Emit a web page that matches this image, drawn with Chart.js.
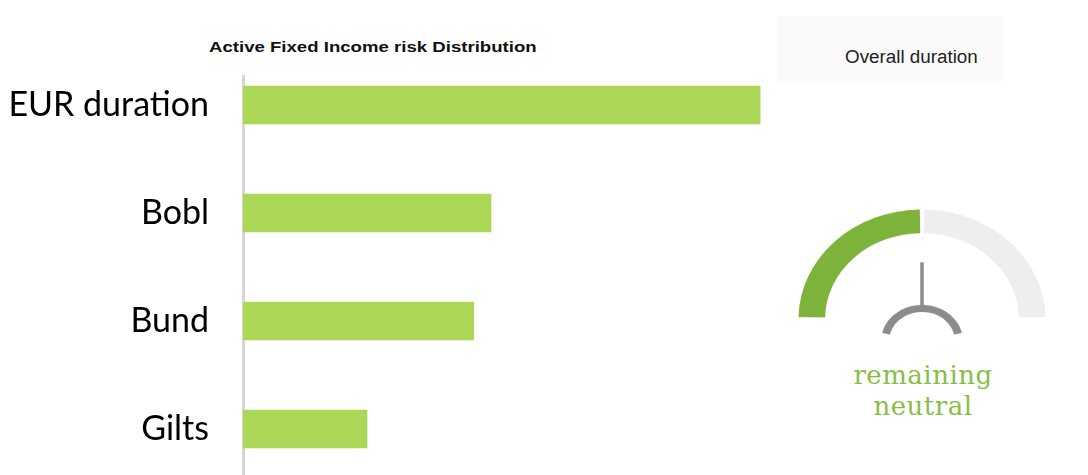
<!DOCTYPE html>
<html>
<head>
<meta charset="utf-8">
<script src="https://cdn.jsdelivr.net/npm/chart.js@4/dist/chart.umd.min.js"></script>
<style>
  html, body { margin: 0; padding: 0; background: #fff; }
  body { width: 1088px; height: 475px; position: relative; overflow: hidden; }
  #title {
    position: absolute; left: 209px; top: 38px;
    font: bold 15px "Liberation Sans", Arial, sans-serif; color: #111;
    white-space: nowrap;
    transform: scaleX(1.24); transform-origin: 0 0;
  }
  #barWrap { position: absolute; left: 0; top: 75px; width: 780px; height: 400px; }
  #durBox {
    position: absolute; left: 777px; top: 16px; width: 226px; height: 65px;
    background: #fafafa;
  }
  #durText {
    position: absolute; left: 845px; top: 47px;
    font: 18px "Liberation Sans", Arial, sans-serif; color: #222;
    white-space: nowrap;
    transform: scaleX(1.045); transform-origin: 0 0;
  }
  #gauge {
    position: absolute; left: 792px; top: 178px;
    transform: scaleY(0.887); transform-origin: 130px 141px;
  }
  #gaugeText {
    position: absolute; left: 823px; width: 200px; top: 360px;
    text-align: center; color: #86bf44;
    font: 26px "DejaVu Serif", serif; line-height: 31px; letter-spacing: 0.5px;
  }
</style>
</head>
<body>
<div id="title">Active Fixed Income risk Distribution</div>
<div id="barWrap"><canvas id="riskChart" width="780" height="400"></canvas></div>
<div id="durBox"></div>
<div id="durText">Overall duration</div>
<canvas id="gauge" width="260" height="161"></canvas>
<div id="gaugeText">remaining<br>neutral</div>

<script>
// Donnees
const categories = ['EUR duration', 'Bobl', 'Bund', 'Gilts'];
const riskValues = [4.17, 2.0, 1.86, 1.0];
const gaugeLabels = ['Overall duration', 'Remaining'];
const gaugeValues = [50, 50];

const barGreen = '#acd655';

// Graphique en barres horizontales
new Chart(document.getElementById('riskChart'), {
    type: 'bar',
    data: {
        datasets: [{
            label: 'Active Fixed Income risk Distribution',
            data: riskValues.map((v, i) => ({ x: v, y: i })),
            backgroundColor: barGreen,
            borderWidth: 0,
            barThickness: 38
        }]
    },
    options: {
        indexAxis: 'y',
        responsive: false,
        animation: false,
        layout: { padding: 0 },
        plugins: {
            legend: { display: false },
            tooltip: { enabled: false }
        },
        scales: {
            x: {
                display: false,
                min: 0,
                max: 4.33
            },
            y: {
                type: 'linear',
                reverse: true,
                offset: false,
                min: -0.278,
                max: 3.426,
                afterBuildTicks: function(scale) {
                    scale.ticks = categories.map((c, i) => ({ value: i }));
                },
                afterFit: function(scale) {
                    scale.width = 243;
                    scale.paddingTop = 0;
                    scale.paddingBottom = 0;
                },
                ticks: {
                    autoSkip: false,
                    padding: 34,
                    color: '#000',
                    font: { family: 'Lato, "Open Sans", sans-serif', size: 34 },
                    callback: function(value) {
                        return categories[value];
                    }
                },
                grid: { offset: false, drawOnChartArea: false, drawTicks: false },
                border: { display: true, color: '#d6d6d6', width: 3 }
            }
        }
    }
});

// Aiguille de la jauge
const needlePlugin = {
    id: 'needle',
    afterDraw: function(chart) {
        const arc = chart.getDatasetMeta(0).data[0];
        if (!arc) return;
        const ctx = chart.ctx;
        const cx = arc.x, cy = arc.y;
        ctx.save();
        ctx.strokeStyle = '#8c8c8c';
        ctx.lineWidth = 3.5;
        ctx.beginPath();
        ctx.moveTo(cx, cy - 64);
        ctx.lineTo(cx, cy - 15);
        ctx.stroke();
        ctx.lineWidth = 8;
        ctx.beginPath();
        ctx.arc(cx, cy + 25, 37, Math.PI + 0.23, 2 * Math.PI - 0.23);
        ctx.stroke();
        ctx.restore();
    }
};

new Chart(document.getElementById('gauge'), {
    type: 'doughnut',
    data: {
        labels: gaugeLabels,
        datasets: [{
            data: gaugeValues,
            backgroundColor: ['#7db23b', '#eeeeee'],
            borderWidth: 0,
            spacing: 5
        }]
    },
    options: {
        responsive: false,
        animation: false,
        rotation: -90,
        circumference: 180,
        radius: 121,
        cutout: '78%',
        layout: { padding: 0 },
        plugins: {
            legend: { display: false },
            tooltip: { enabled: false }
        }
    },
    plugins: [needlePlugin]
});
</script>
</body>
</html>
